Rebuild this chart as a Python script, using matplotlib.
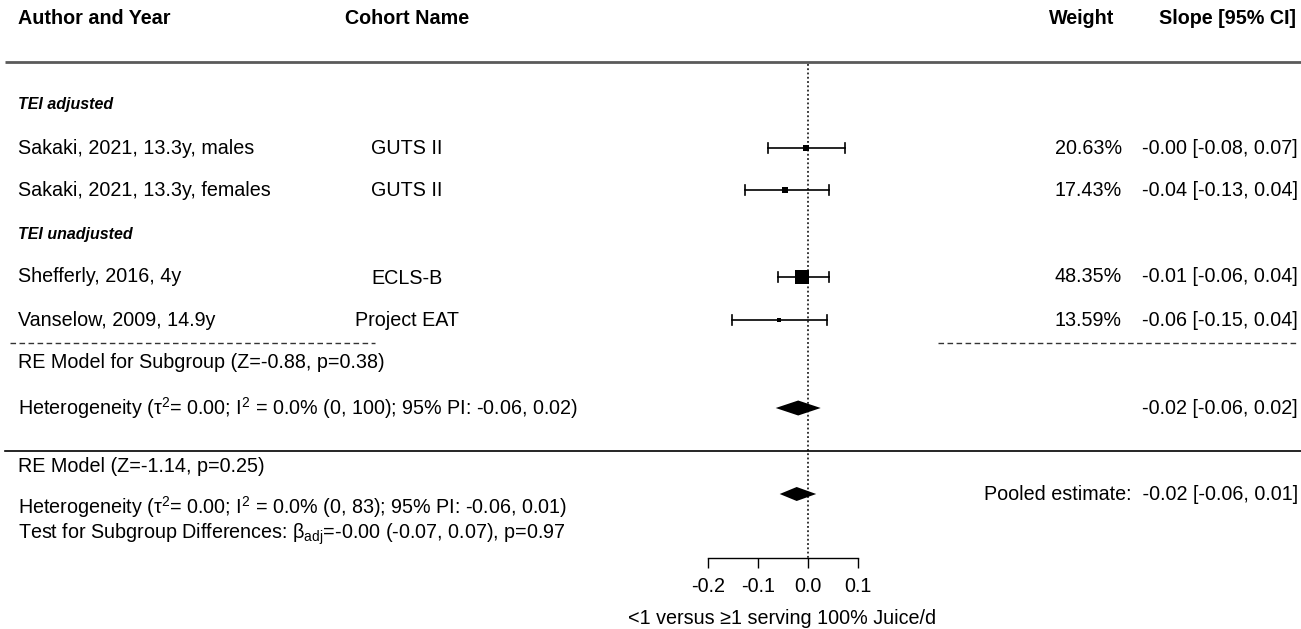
import numpy as np
import matplotlib
matplotlib.use("Agg")
import matplotlib.pyplot as plt

plt.rcParams['font.family'] = ['Liberation Sans', 'DejaVu Sans']
plt.rcParams['mathtext.fontset'] = 'custom'
plt.rcParams['mathtext.rm'] = 'Liberation Sans'
plt.rcParams['mathtext.it'] = 'Liberation Sans:italic'
plt.rcParams['axes.unicode_minus'] = False

# studies
authors = ["Sakaki, 2021, 13.3y, males", "Sakaki, 2021, 13.3y, females",
           "Shefferly, 2016, 4y", "Vanselow, 2009, 14.9y"]
cohorts = ["GUTS II", "GUTS II", "ECLS-B", "Project EAT"]
weights = [20.63, 17.43, 48.35, 13.59]
est = [-0.004, -0.045, -0.011, -0.057]
ci_lo = [-0.080, -0.126, -0.059, -0.151]
ci_hi = [0.074, 0.042, 0.042, 0.039]
slope_txt = ["-0.00 [-0.08, 0.07]", "-0.04 [-0.13, 0.04]",
             "-0.01 [-0.06, 0.04]", "-0.06 [-0.15, 0.04]"]
groups = ["TEI adjusted", "TEI unadjusted"]

# pooled estimates (subgroup RE model, overall RE model)
sub_est, sub_lo, sub_hi = -0.019, -0.064, 0.026
all_est, all_lo, all_hi = -0.022, -0.056, 0.017
sub_txt = "-0.02 [-0.06, 0.02]"
all_txt = "-0.02 [-0.06, 0.01]"

ticks = [-0.2, -0.1, 0.0, 0.1]

# layout (pixel rows, 1301x629 canvas)
W, H = 1301, 629
X0, PPU = 807.7, 500.0          # pixel of slope 0, pixels per slope unit
row_y = [148, 190, 277, 320]
group_y = [104, 235]
FS = 14.2


def px(p):
    return (p - X0) / PPU


fig = plt.figure(figsize=(W / 100, H / 100), dpi=100)
ax = fig.add_axes([0, 0, 1, 1])
ax.set_xlim(px(0), px(W))
ax.set_ylim(H, 0)

# headers
ax.text(px(18), 18, "Author and Year", fontsize=FS, fontweight='bold', va='center')
ax.text(px(407), 19, "Cohort Name", fontsize=FS, fontweight='bold', va='center', ha='center')
ax.text(px(1114), 18, "Weight", fontsize=FS, fontweight='bold', va='center', ha='right')
ax.text(px(1296), 18, "Slope [95% CI]", fontsize=FS, fontweight='bold', va='center', ha='right')
ax.plot([px(5), px(W)], [62, 62], color='#5a5a5a', lw=2.0, solid_capstyle='butt')

# reference line at zero
ax.plot([0, 0], [64, 558], color='black', lw=1.1, ls=(0, (1.2, 1.6)))

for g, y in zip(groups, group_y):
    ax.text(px(18), y, g, fontsize=11.5, fontweight='bold', style='italic', va='center')

for i, y in enumerate(row_y):
    ax.text(px(18), y, authors[i], fontsize=FS, va='center')
    ax.text(px(407), y + 1, cohorts[i], fontsize=FS, va='center', ha='center')
    ax.text(px(1122), y, f"{weights[i]:.2f}%", fontsize=FS, va='center', ha='right')
    ax.text(px(1298), y, slope_txt[i], fontsize=FS, va='center', ha='right')
    ax.plot([ci_lo[i], ci_hi[i]], [y, y], color='black', lw=1.2)
    for e in (ci_lo[i], ci_hi[i]):
        ax.plot([e, e], [y - 5, y + 5], color='black', lw=1.2)
    # square side grows with study weight
    side = 0.6 + 0.27 * weights[i]
    ax.plot(est[i], y, marker='s', color='black', ms=side * 0.72, mew=0)

# subgroup separators
ax.plot([px(10), px(375)], [343, 343], color='#333333', lw=1.0, ls=(0, (4, 2.5)))
ax.plot([px(938), px(1298)], [343, 343], color='#333333', lw=1.0, ls=(0, (4, 2.5)))

ax.text(px(18), 362, "RE Model for Subgroup (Z=-0.88, p=0.38)", fontsize=FS, va='center')
ax.text(px(18), 408, "Heterogeneity (τ$^{2}$= 0.00; I$^{2}$ = 0.0% (0, 100); 95% PI: -0.06, 0.02)",
        fontsize=FS, va='center')
ax.fill([sub_lo, sub_est, sub_hi, sub_est], [408, 400.5, 408, 415.5], color='black', lw=0)
ax.text(px(1298), 408, sub_txt, fontsize=FS, va='center', ha='right')

ax.plot([px(5), px(W)], [451, 451], color='black', lw=1.2)

ax.text(px(18), 467, "RE Model (Z=-1.14, p=0.25)", fontsize=FS, va='center')
ax.text(px(18), 507, "Heterogeneity (τ$^{2}$= 0.00; I$^{2}$ = 0.0% (0, 83); 95% PI: -0.06, 0.01)",
        fontsize=FS, va='center')
ax.text(px(18), 534, "Test for Subgroup Differences: β$_{\\mathrm{adj}}$=-0.00 (-0.07, 0.07), p=0.97",
        fontsize=FS, va='center')
ax.fill([all_lo, all_est, all_hi, all_est], [494, 487, 494, 501], color='black', lw=0)
ax.text(px(1298), 494, "Pooled estimate:  " + all_txt, fontsize=FS, va='center', ha='right')

# slope axis
for s in ['top', 'left', 'right']:
    ax.spines[s].set_visible(False)
ax.spines['bottom'].set_position(('data', 558))
ax.spines['bottom'].set_bounds(ticks[0], ticks[-1])
ax.spines['bottom'].set_linewidth(1.0)
ax.set_xticks(ticks)
ax.set_xticklabels([f"{t:.1f}" for t in ticks])
ax.tick_params(axis='x', direction='out', length=7.2, width=1.0, pad=6.5, labelsize=FS)
ax.set_yticks([])
ax.text(px(782), 618, "<1 versus ≥1 serving 100% Juice/d", fontsize=FS, va='center', ha='center')

fig.savefig("out.png", dpi=100)
